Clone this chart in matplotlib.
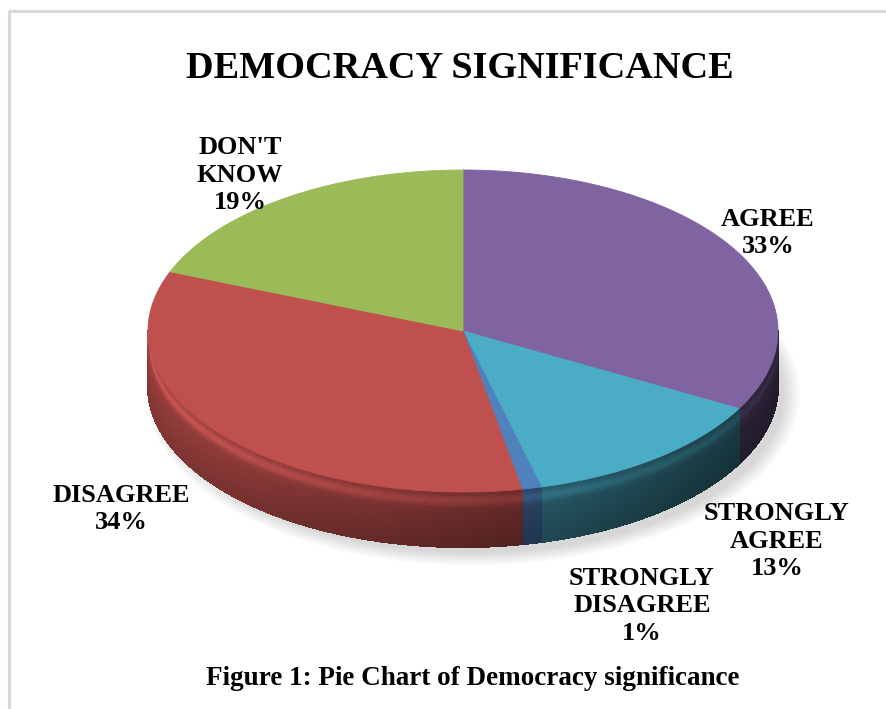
import numpy as np
import matplotlib
matplotlib.use("Agg")
import matplotlib.pyplot as plt
from matplotlib.collections import PolyCollection
from matplotlib.patches import Ellipse, Polygon
from matplotlib.colors import to_rgb

# data
categories = ["AGREE", "STRONGLY AGREE", "STRONGLY DISAGREE", "DISAGREE", "DON'T KNOW"]
percents = [33, 13, 1, 34, 19]
label_text = ["AGREE", "STRONGLY\nAGREE", "STRONGLY\nDISAGREE", "DISAGREE", "DON'T\nKNOW"]
colors = ["#8064A2", "#4BACC6", "#4F81BD", "#C0504D", "#9BBB59"]

title = "DEMOCRACY SIGNIFICANCE"
caption = "Figure 1: Pie Chart of Democracy significance"

# layout (pixels)
W, H = 887, 709
cx, cy = 463, 331      # centre of top face
rx, ry = 315, 161      # radii of top face
depth = 55             # thickness of the pie
label_pos = [(768, 233), (777, 541), (642, 606), (121, 509), (240, 175)]

serif = ["Liberation Serif", "DejaVu Serif"]

fig = plt.figure(figsize=(W / 100, H / 100), dpi=100)
ax = fig.add_axes([0, 0, 1, 1])
ax.set_xlim(0, W)
ax.set_ylim(H, 0)
ax.axis("off")

# frame of the chart area
ax.plot([9, 9, W], [H, 11, 11], color="#d9d9d9", lw=2.2, solid_capstyle="butt")


def proj(theta, dz=0.0):
    t = np.radians(theta)
    return cx + rx * np.sin(t), cy - ry * np.cos(t) + dz


# soft shadow below the pie
for k in range(10):
    ax.add_patch(Ellipse((cx + 10, cy + depth + 8), 2 * (rx - 4 + k * 1.8), 2 * (ry - 2 + k * 1.4),
                         facecolor="#000000", edgecolor="none", alpha=0.016, zorder=1))

# angles of slices (clockwise from 12 o'clock)
bounds = np.concatenate([[0], np.cumsum(percents)]) / sum(percents) * 360.0

# sides of the slices (front half only)
quads, qcols = [], []
nb = 22
zs = np.linspace(0, 1, nb + 1)
for i in range(len(percents)):
    t0, t1 = max(bounds[i], 90), min(bounds[i + 1], 270)
    if t1 <= t0:
        continue
    base = np.array(to_rgb(colors[i]))
    ts = np.linspace(t0, t1, max(2, int((t1 - t0) * 2) + 1))
    for ta, tb in zip(ts[:-1], ts[1:]):
        tm = np.radians((ta + tb) / 2)
        shade = 0.58 + 0.26 * (-np.sin(tm))
        xa, ya = proj(ta)
        xb, yb = proj(tb)
        for z0, z1 in zip(zs[:-1], zs[1:]):
            zm = (z0 + z1) / 2
            f = 0.8 + 0.22 * (1 - zm) + 0.3 * np.exp(-((zm - 0.18) / 0.09) ** 2)
            quads.append([(xa, ya + z0 * depth), (xb, yb + z0 * depth),
                          (xb, yb + z1 * depth), (xa, ya + z1 * depth)])
            qcols.append(np.clip(base * shade * f, 0, 1))
ax.add_collection(PolyCollection(quads, facecolors=qcols, edgecolors=qcols, linewidths=0.8,
                                 antialiased=False, zorder=2))

# top faces
for i in range(len(percents)):
    ts = np.linspace(bounds[i], bounds[i + 1], max(3, int(bounds[i + 1] - bounds[i]) * 2))
    xs, ys = proj(ts)
    pts = [(cx, cy)] + list(zip(xs, ys))
    ax.add_patch(Polygon(pts, closed=True, facecolor=colors[i], edgecolor=colors[i], lw=0.6, zorder=3))

# labels
for txt, p, (lx, ly) in zip(label_text, percents, label_pos):
    ax.text(lx, ly, f"{txt}\n{p}%", ha="center", va="center", multialignment="center",
            fontsize=19, fontweight="bold", family=serif, linespacing=1.25, zorder=5)

ax.text(460, 78, title, ha="center", va="baseline", fontsize=27.5, fontweight="bold", family=serif)
ax.text(473, 685, caption, ha="center", va="baseline", fontsize=19.5, fontweight="bold", family=serif)

fig.savefig("out.png", dpi=100)
